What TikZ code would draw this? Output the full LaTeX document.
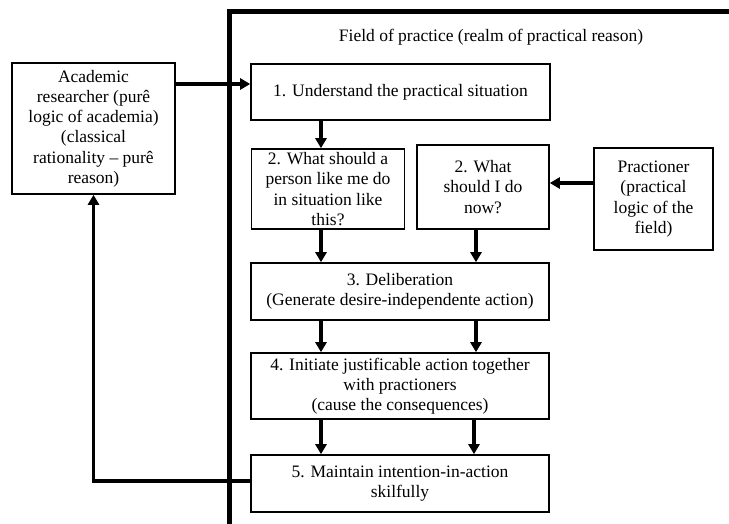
\documentclass[tikz,border=0pt]{standalone}
\usepackage{fontspec}
\setmainfont{Liberation Serif}
\usetikzlibrary{arrows.meta}
\begin{document}
\begin{tikzpicture}[x=1pt,y=-1pt,
  box/.style={draw,line width=1.6pt,inner sep=0pt,align=center,font=\fontsize{17.5}{20.2}\selectfont},
  arr/.style={line width=3.2pt,-{Triangle[length=10pt,width=11pt]}},
  lbl/.style={font=\fontsize{17.5}{20.2}\selectfont,inner sep=0pt}]
\useasboundingbox (0,0) rectangle (729,523);
\draw[line width=5pt] (731,11) -| (229,525);
\node[lbl] (title) at (491,37) {Field of practice (realm of practical reason)};
\node[box,minimum width=163pt,minimum height=131pt] (acad) at (93.5,128.5)
  {Academic\\researcher (purê\\logic of academia)\\(classical\\rationality -- purê\\reason)};
\node[box,minimum width=299pt,minimum height=56pt] (b1) at (400.5,92) {1. Understand the practical situation};
\node[box,minimum width=153pt,minimum height=80pt] (b2a) at (328,189) {2. What should a\\person like me do\\in situation like\\this?};
\node[box,minimum width=132pt,minimum height=84pt] (b2b) at (483,187) {2. What\\should I do\\now?};
\node[box,minimum width=119pt,minimum height=102pt] (prac) at (653.5,199) {Practioner\\(practical\\logic of the\\field)};
\node[box,minimum width=298pt,minimum height=57pt] (b3) at (400,291.5) {3. Deliberation\\(Generate desire-independente action)};
\node[box,minimum width=298pt,minimum height=66pt] (b4) at (400,386) {4. Initiate justificable action together\\with practioners\\(cause the consequences)};
\node[box,minimum width=298pt,minimum height=57pt] (b5) at (400,483.5) {5. Maintain intention-in-action\\skilfully};
\coordinate (ya) at (0,84);
\coordinate (xl) at (321,0);
\coordinate (xr) at (476,0);
\coordinate (xr2) at (474,0);
\coordinate (yp) at (0,183);
\coordinate (y5) at (0,481);
\draw[arr] (acad.east |- ya) -- (b1.west |- ya);
\draw[arr] (b1.south -| xl) -- (b2a.north -| xl);
\draw[arr] (b2a.south -| xl) -- (b3.north -| xl);
\draw[arr] (b2b.south -| xr) -- (b3.north -| xr);
\draw[arr] (b3.south -| xl) -- (b4.north -| xl);
\draw[arr] (b3.south -| xr) -- (b4.north -| xr);
\draw[arr] (b4.south -| xl) -- (b5.north -| xl);
\draw[arr] (b4.south -| xr2) -- (b5.north -| xr2);
\draw[arr] (prac.west |- yp) -- (b2b.east |- yp);
\draw[arr] (b5.west |- y5) -| (acad.south);
\end{tikzpicture}
\end{document}
